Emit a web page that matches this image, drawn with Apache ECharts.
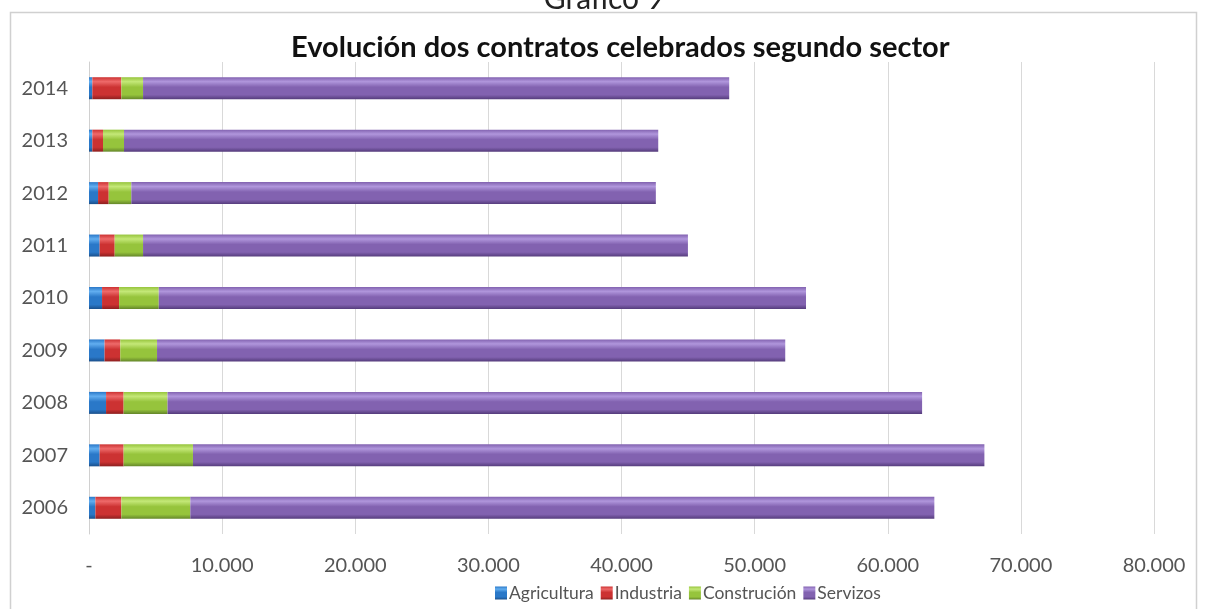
<!DOCTYPE html>
<html>
<head>
<meta charset="utf-8">
<script src="https://cdn.jsdelivr.net/npm/echarts@6/dist/echarts.min.js"></script>
<style>
  html, body { margin: 0; padding: 0; background: #fff; }
  #myChart { width: 1208px; height: 609px; }
</style>
</head>
<body>
<div id="myChart"></div>
<script>
// anos (de abaixo a arriba)
var years = ['2006', '2007', '2008', '2009', '2010', '2011', '2012', '2013', '2014']
var agricultura = [480, 800, 1280, 1170, 980, 800, 680, 250, 250]
var industria = [1950, 1800, 1320, 1180, 1280, 1130, 800, 800, 2180]
var construcion = [5180, 5210, 3300, 2760, 2980, 2130, 1700, 1580, 1630]
var servizos = [55890, 59450, 56680, 47190, 48620, 40930, 39400, 40130, 44030]
var xTicks = [0, 10000, 20000, 30000, 40000, 50000, 60000, 70000, 80000]

function bevel(light, mid, dark) {
  return new echarts.graphic.LinearGradient(0, 0, 0, 1, [
    { offset: 0, color: mid },
    { offset: 0.2, color: light },
    { offset: 0.45, color: mid },
    { offset: 0.8, color: mid },
    { offset: 1, color: dark }
  ])
}

var colors = {
  agricultura: bevel('#62aef0', '#2a78c8', '#1a4f8a'),
  industria: bevel('#ee6a6a', '#cc3232', '#8c1f1f'),
  construcion: bevel('#c4e878', '#96c43c', '#64862a'),
  servizos: bevel('#b096dc', '#8262b0', '#553c7c')
}

function fmt(v) {
  if (v === 0) return '-'
  return String(v).replace(/\B(?=(\d{3})+(?!\d))/g, '.')
}

function serie(name, data, color) {
  return {
    name: name,
    type: 'bar',
    stack: 'total',
    barWidth: 22,
    itemStyle: { color: color },
    data: data
  }
}

const myChart = echarts.init(document.getElementById('myChart'))
myChart.setOption({
  animation: false,
  textStyle: { fontFamily: 'Lato, sans-serif' },
  title: {
    text: 'Evolución dos contratos celebrados segundo sector',
    left: 286,
    top: 28,
    textStyle: {
      fontSize: 29,
      fontWeight: 'bold',
      color: '#111',
      fontFamily: 'Lato, sans-serif'
    }
  },
  graphic: [
    {
      type: 'rect',
      shape: { x: 10.5, y: 12.5, width: 1186, height: 620 },
      style: { fill: 'none', stroke: '#d0d0d0', lineWidth: 1.5 },
      silent: true
    },
    {
      type: 'text',
      left: 'center',
      top: -16,
      style: {
        text: 'Gráfico 9',
        fill: '#222',
        font: '30px Lato, sans-serif'
      }
    }
  ],
  legend: {
    bottom: 2,
    left: 490,
    itemWidth: 12,
    itemHeight: 13,
    itemGap: 7,
    icon: 'rect',
    textStyle: { fontSize: 17.5, color: '#555', padding: [0, 0, 0, -3] },
    data: ['Agricultura', 'Industria', 'Construción', 'Servizos']
  },
  grid: {
    left: 89,
    top: 62,
    width: 1065,
    height: 472,
    containLabel: false
  },
  xAxis: {
    type: 'value',
    min: 0,
    max: 80000,
    interval: 10000,
    axisLine: { show: false },
    axisTick: { show: false },
    splitLine: { lineStyle: { color: '#d9d9d9' } },
    axisLabel: {
      fontSize: 20,
      color: '#555',
      margin: 22,
      formatter: function (v) { return xTicks.indexOf(v) >= 0 ? fmt(v) : '' }
    }
  },
  yAxis: {
    type: 'category',
    data: years,
    axisLine: { lineStyle: { color: '#d0d0d0' } },
    axisTick: { show: false },
    axisLabel: { fontSize: 20, color: '#555', margin: 21 }
  },
  series: [
    serie('Agricultura', agricultura, colors.agricultura),
    serie('Industria', industria, colors.industria),
    serie('Construción', construcion, colors.construcion),
    serie('Servizos', servizos, colors.servizos)
  ]
})
</script>
</body>
</html>
